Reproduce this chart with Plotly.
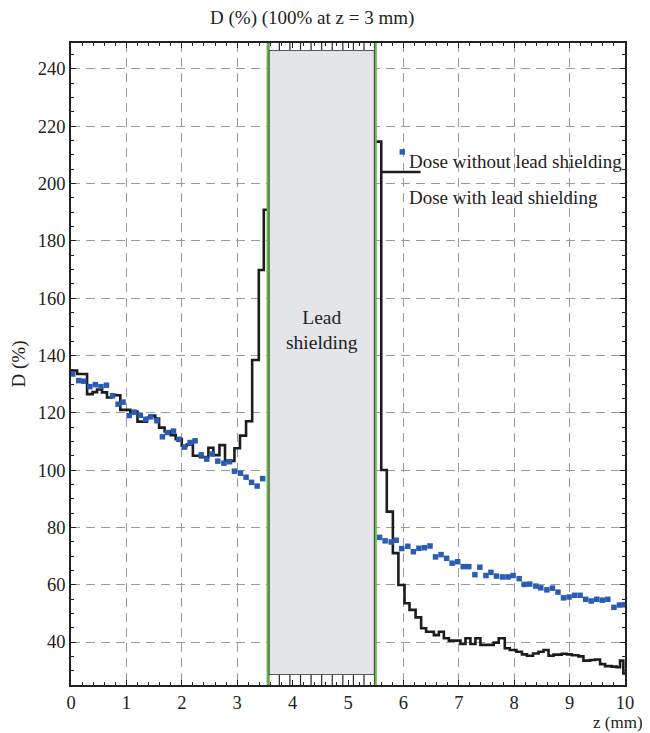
import plotly.graph_objects as go

# ---------------- data ----------------
# Dose without lead shielding (blue squares)
blue_left_x = [0.03, 0.14, 0.23, 0.34, 0.44, 0.54, 0.64, 0.75, 0.85, 0.94, 1.05, 1.14, 1.25, 1.35, 1.44,
               1.55, 1.65, 1.74, 1.85, 1.95, 2.05, 2.15, 2.24, 2.35, 2.45, 2.55, 2.65, 2.76, 2.86, 2.95,
               3.06, 3.16, 3.26, 3.36, 3.46]
blue_left_y = [133.5, 131.2, 131.0, 129.1, 129.8, 129.1, 129.6, 125.9, 123.0, 123.7, 119.0, 120.2, 119.1,
               117.7, 118.6, 117.2, 111.6, 113.1, 113.6, 110.7, 108.0, 109.6, 110.2, 105.3, 103.8, 105.6,
               103.1, 102.4, 102.9, 99.6, 98.9, 97.5, 95.7, 94.4, 97.0]
blue_right_x = [5.57, 5.67, 5.78, 5.87, 5.97, 6.08, 6.18, 6.28, 6.38, 6.48, 6.58, 6.68, 6.78, 6.88, 6.98,
                7.08, 7.18, 7.29, 7.38, 7.49, 7.58, 7.68, 7.79, 7.89, 7.98, 8.09, 8.18, 8.28, 8.39, 8.48,
                8.59, 8.69, 8.79, 8.89, 8.99, 9.09, 9.19, 9.29, 9.39, 9.49, 9.59, 9.69, 9.80, 9.90, 9.99]
blue_right_y = [76.5, 75.3, 74.9, 75.5, 72.6, 73.4, 71.5, 72.7, 72.9, 73.5, 69.7, 70.5, 69.2, 67.5, 68.0,
                66.3, 66.3, 63.5, 66.1, 63.2, 64.3, 63.0, 62.7, 62.7, 63.2, 62.1, 60.1, 60.2, 59.5, 58.9,
                58.2, 58.8, 57.4, 55.4, 55.7, 56.3, 56.3, 54.9, 54.3, 54.9, 54.6, 54.9, 52.1, 52.9, 53.0]

# Dose with lead shielding (black step histogram): bin start edges + values, last edge closes
black_left_edges = [0.00, 0.11, 0.29, 0.39, 0.47, 0.56, 0.65, 0.73, 0.82, 0.89, 1.07, 1.20, 1.37, 1.43,
                    1.52, 1.59, 1.69, 1.80, 1.89, 2.00, 2.09, 2.20, 2.33, 2.48, 2.57, 2.68, 2.78, 2.95,
                    3.05, 3.16, 3.27, 3.39, 3.48, 3.55]
black_left_vals = [134.7, 133.5, 126.5, 127.2, 128.1, 127.1, 125.3, 126.2, 126.1, 121.0, 120.4, 116.9,
                   118.2, 119.0, 118.0, 114.8, 113.5, 112.2, 110.8, 108.4, 108.9, 105.0, 104.5, 107.8,
                   105.2, 108.7, 103.2, 107.6, 112.0, 117.0, 138.4, 169.8, 190.8]
black_right_edges = [5.50, 5.60, 5.70, 5.81, 5.91, 6.02, 6.11, 6.22, 6.32, 6.41, 6.55, 6.64, 6.73, 6.82,
                     7.03, 7.12, 7.21, 7.30, 7.39, 7.63, 7.72, 7.83, 7.92, 8.04, 8.14, 8.23, 8.34, 8.44,
                     8.53, 8.62, 8.71, 8.86, 8.95, 9.04, 9.16, 9.25, 9.37, 9.46, 9.55, 9.64, 9.76, 9.85,
                     9.91, 9.97, 10.00]
black_right_vals = [214.6, 100.0, 85.5, 71.0, 59.9, 53.5, 51.2, 48.6, 44.8, 43.6, 42.4, 43.6, 41.3, 40.5,
                    39.3, 41.3, 39.3, 41.3, 39.0, 39.8, 41.3, 37.8, 37.2, 36.6, 35.7, 35.2, 36.0, 36.6,
                    37.2, 35.2, 35.6, 35.9, 35.7, 35.4, 35.0, 33.5, 33.7, 33.9, 32.3, 31.6, 31.4, 31.2,
                    33.5, 29.0]

# shielding region
lead_x0, lead_x1 = 3.55, 5.50
lead_y0, lead_y1 = 28.5, 246.6

x_range = [0, 10]
y_range = [25, 249]
x_ticks = [0, 1, 2, 3, 4, 5, 6, 7, 8, 9, 10]
y_ticks = [40, 60, 80, 100, 120, 140, 160, 180, 200, 220, 240]

# ---------------- styles ----------------
FONT = "Liberation Serif"
TXT = "#222222"
BLUE = "#2a5cb5"
BLACK = "#1c1c1c"
GREEN = "#63b847"
GRID = "#9a9a9a"

fig = go.Figure()

def step_xy(edges, vals):
    xs = list(edges)
    ys = list(vals) + [vals[-1]]
    return xs, ys

lx, ly = step_xy(black_left_edges, black_left_vals)
rx, ry = step_xy(black_right_edges, black_right_vals)

fig.add_trace(go.Scatter(x=lx, y=ly, mode="lines", line=dict(color=BLACK, width=2.6, shape="hv"),
                         showlegend=False, hoverinfo="skip"))
fig.add_trace(go.Scatter(x=rx, y=ry, mode="lines", line=dict(color=BLACK, width=2.6, shape="hv"),
                         showlegend=False, hoverinfo="skip"))
fig.add_trace(go.Scatter(x=blue_left_x + blue_right_x, y=blue_left_y + blue_right_y, mode="markers",
                         marker=dict(symbol="square", size=5.5, color=BLUE), showlegend=False))

# legend samples (drawn in the plot like the original)
fig.add_trace(go.Scatter(x=[5.98], y=[211], mode="markers",
                         marker=dict(symbol="square", size=5.5, color=BLUE), showlegend=False))
fig.add_trace(go.Scatter(x=[5.60, 6.31], y=[204, 204], mode="lines",
                         line=dict(color=BLACK, width=2.6), showlegend=False))

shapes = []
# lead box
shapes.append(dict(type="rect", xref="x", yref="y", x0=lead_x0 + 0.02, x1=lead_x1 - 0.02,
                   y0=lead_y0, y1=lead_y1, fillcolor="#e4e5e8",
                   line=dict(color="#2a2a2a", width=1.6), layer="between"))
# white strips with hatch
for (a, b) in [(lead_y1, y_range[1]), (y_range[0], lead_y0)]:
    shapes.append(dict(type="rect", xref="x", yref="y", x0=lead_x0, x1=lead_x1, y0=a, y1=b,
                       fillcolor="white", line=dict(width=0), layer="between"))
    n = 10
    for i in range(n + 1):
        xv = lead_x0 + 0.02 + (lead_x1 - lead_x0 - 0.04) * i / n
        shapes.append(dict(type="line", xref="x", yref="y", x0=xv, x1=xv, y0=a, y1=b,
                           line=dict(color="#2a2a2a", width=1.2), layer="above"))
# green boundary lines
for xv in (lead_x0, lead_x1):
    shapes.append(dict(type="line", xref="x", yref="paper", x0=xv, x1=xv, y0=0, y1=1,
                       line=dict(color=GREEN, width=2.2), layer="above"))

annotations = [
    dict(x=4.53, y=149, xref="x", yref="y", text="Lead<br>shielding", showarrow=False,
         font=dict(family=FONT, size=19.5, color=TXT), align="center"),
    dict(x=6.06, y=207.6, xref="x", yref="y", text="Dose without lead shielding", showarrow=False,
         xanchor="left", font=dict(family=FONT, size=19, color=TXT)),
    dict(x=6.06, y=195.2, xref="x", yref="y", text="Dose with lead shielding", showarrow=False,
         xanchor="left", font=dict(family=FONT, size=19, color=TXT)),
    dict(x=1.0, y=0.0, xref="paper", yref="paper", text="z (mm)", showarrow=False,
         xanchor="right", yanchor="middle", xshift=20, yshift=-37,
         font=dict(family=FONT, size=17, color=TXT)),
    dict(x=0.435, y=1.0, xref="paper", yref="paper", text="D (%) (100% at z = 3 mm)", showarrow=False,
         xanchor="center", yanchor="bottom", yshift=12, font=dict(family=FONT, size=19, color=TXT)),
]

axis_common = dict(showline=True, linecolor="#222", linewidth=1.5, mirror="ticks",
                   ticks="inside", tickcolor="#222", ticklen=5, tickwidth=1,
                   showgrid=True, gridcolor=GRID, griddash="9px,6px", gridwidth=1.2,
                   zeroline=False, automargin=False,
                   tickfont=dict(family=FONT, size=18.5, color=TXT))

# page body has an 8px margin: figure sized so the plot area lands where the reference's does
fig.update_layout(
    width=642, height=725,
    margin=dict(l=63, r=25, t=35, b=48),
    paper_bgcolor="white", plot_bgcolor="white",
    shapes=shapes, annotations=annotations,
    xaxis=dict(range=x_range, tickvals=x_ticks, ticktext=[str(v) for v in x_ticks],
               minor=dict(ticks="inside", dtick=0.2, ticklen=3, tickcolor="#222", showgrid=False),
               **axis_common),
    yaxis=dict(range=y_range, tickvals=y_ticks, ticktext=[str(v) for v in y_ticks],
               title=dict(text="D (%)", font=dict(family=FONT, size=19, color=TXT), standoff=9),
               minor=dict(ticks="inside", dtick=5, tick0=0, ticklen=3, tickcolor="#222", showgrid=False),
               **axis_common),
)

fig.write_html("out.html")
